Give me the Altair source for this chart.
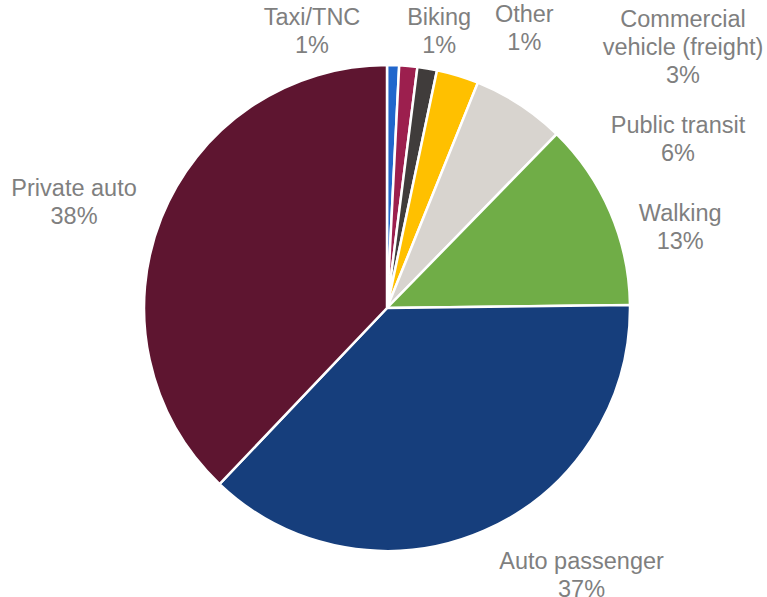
import math
import altair as alt
import pandas as pd

# ---- data ----
categories = ["Taxi/TNC", "Biking", "Other", "Commercial\nvehicle (freight)",
              "Public transit", "Walking", "Auto passenger", "Private auto"]
shares = [0.8, 1.2, 1.3, 2.8, 6.2, 12.5, 37.3, 37.9]
share_labels = ["1%", "1%", "1%", "3%", "6%", "13%", "37%", "38%"]
colors = ["#2166CC", "#9C1F4E", "#403C3B", "#FFC000",
          "#D8D4CF", "#70AD47", "#163E7C", "#5E1530"]

# ---- layout (label block centres, like Excel's best-fit) ----
label_angle_deg = [344.8, 10.7, 26.2, 48.7, 60.0, 74.7, 144.0, 288.5]
label_radius_px = [286, 281, 311, 394, 336, 304, 331, 330]
LINE_H = 28

labels_txt = [f"{c}\n{p}" for c, p in zip(categories, share_labels)]
anchor_a, anchor_r = [], []
for a, r, t in zip(label_angle_deg, label_radius_px, labels_txt):
    n = t.count("\n") + 1
    x = r * math.sin(math.radians(a))
    y = -r * math.cos(math.radians(a)) - LINE_H * (n - 1) / 2
    anchor_r.append(math.hypot(x, y))
    anchor_a.append(math.degrees(math.atan2(x, -y)) % 360)

df = pd.DataFrame({
    "category": categories,
    "share": shares,
    "order": list(range(len(categories))),
    "label": labels_txt,
    "la": anchor_a,
    "lr": anchor_r,
})

color_scale = alt.Scale(domain=categories, range=colors)

pie = alt.Chart(df).mark_arc(outerRadius=243, stroke="white", strokeWidth=2.5).encode(
    theta=alt.Theta("share:Q", stack=True, scale=alt.Scale(domain=[0, 100])),
    color=alt.Color("category:N", scale=color_scale, legend=None),
    order=alt.Order("order:Q"),
)

labels = alt.Chart(df).mark_text(
    font="Liberation Sans", fontSize=23.5, color="#7F7F7F",
    lineBreak="\n", lineHeight=LINE_H, align="center", baseline="middle",
).encode(
    theta=alt.Theta("la:Q", stack=None, scale=alt.Scale(domain=[0, 360])),
    radius=alt.Radius("lr:Q", scale=None),
    text="label:N",
)

chart = alt.layer(pie, labels).resolve_scale(theta="independent").properties(
    width=760, height=578,
    padding={"left": 7, "top": 19, "right": 0, "bottom": 0},
    autosize=alt.AutoSizeParams(type="none"),
    background="white",
).configure_view(strokeWidth=0)

chart.save("out.html", embed_options={"renderer": "svg", "actions": False})
